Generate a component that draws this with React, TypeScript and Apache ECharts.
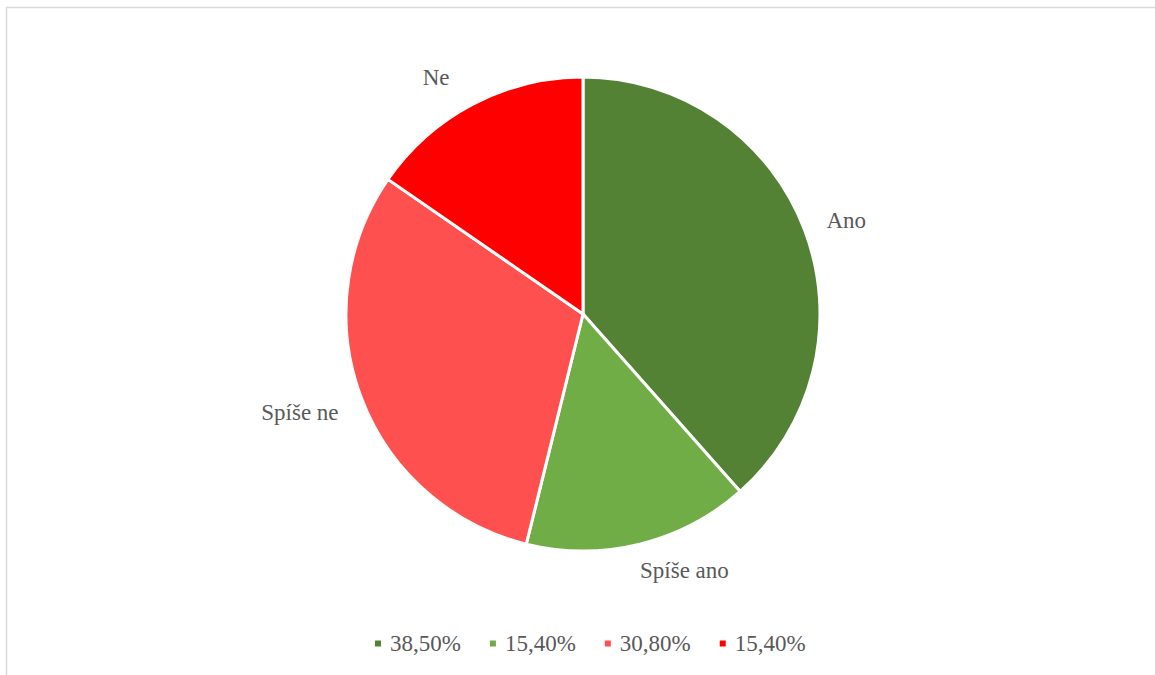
import React, { useEffect, useRef } from "react";
import * as echarts from "echarts";

const categories = ["Ano", "Spíše ano", "Spíše ne", "Ne"];
const values = [38.5, 15.4, 30.8, 15.4];
const colors = ["#548235", "#70AD47", "#FF5050", "#FF0000"];
const labelShift = [
  [0, -3],
  [-9, 9],
  [-1, 8],
  [-10, -11],
];

const fmt = (v: number) => v.toFixed(2).replace(".", ",") + "%";

export default function App() {
  const ref = useRef<HTMLDivElement>(null);
  useEffect(() => {
    if (!ref.current) return;
    const chart = echarts.init(ref.current, undefined, { renderer: "svg" });
    const font = "'Liberation Serif', 'Times New Roman', serif";
    chart.setOption({
      animation: false,
      backgroundColor: "#ffffff",
      graphic: [
        {
          type: "rect",
          shape: { x: 6.5, y: 7.5, width: 1200, height: 700 },
          style: { fill: "none", stroke: "#d9d9d9", lineWidth: 1.5 },
          silent: true,
        },
      ],
      legend: {
        left: 368,
        top: 627,
        icon: "rect",
        itemWidth: 8,
        itemHeight: 8,
        itemGap: 27,
        data: categories,
        formatter: (name: string) => fmt(values[categories.indexOf(name)]),
        textStyle: {
          fontFamily: font,
          fontSize: 23,
          color: "#595959",
          padding: [0, 0, 0, 3],
        },
      },
      series: [
        {
          type: "pie",
          center: [583, 314],
          radius: 237,
          startAngle: 90,
          clockwise: true,
          color: colors,
          itemStyle: { borderColor: "#ffffff", borderWidth: 3 },
          label: {
            show: true,
            position: "outside",
            formatter: "{b}",
            fontFamily: font,
            fontSize: 23,
            color: "#595959",
          },
          labelLine: { show: false, length: 18, length2: 0 },
          labelLayout: (params: any) => ({
            dx: labelShift[params.dataIndex][0],
            dy: labelShift[params.dataIndex][1],
          }),
          emphasis: { disabled: true },
          data: categories.map((c, i) => ({ name: c, value: values[i] })),
        },
      ],
    });
    return () => chart.dispose();
  }, []);
  return (
    <div
      ref={ref}
      style={{ position: "fixed", left: 0, top: 0, width: 1155, height: 675 }}
    />
  );
}
